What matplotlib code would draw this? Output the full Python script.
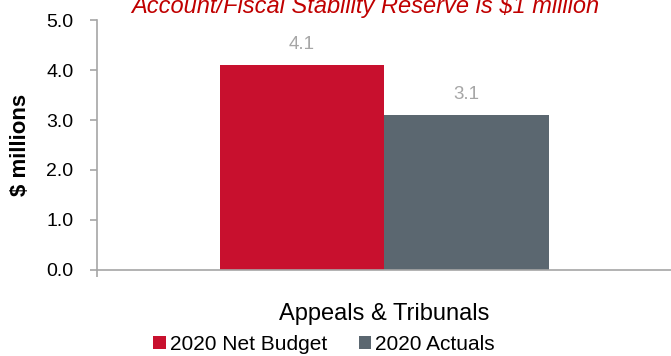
import matplotlib
matplotlib.use('Agg')
import matplotlib.pyplot as plt
from matplotlib.patches import Patch

plt.rcParams['font.family'] = ['Liberation Sans', 'DejaVu Sans']

# Chart data
category = 'Appeals & Tribunals'
series_names = ['2020 Net Budget', '2020 Actuals']
series_values = [4.1, 3.1]
series_colors = ['#C8102E', '#5B6770']
y_ticks = [0.0, 1.0, 2.0, 3.0, 4.0, 5.0]
note_text = 'Account/Fiscal Stability Reserve is $1 million'

fig = plt.figure(figsize=(6.71, 3.56), dpi=100)
ax = fig.add_axes([0.1446, 0.2416, 0.8554, 0.7022])

# Two bars side by side inside the single category
bar_w = 0.2866
offsets = [-bar_w / 2, bar_w / 2]
for off, val, col in zip(offsets, series_values, series_colors):
    ax.bar(off, val, width=bar_w, color=col, zorder=2)
    ax.annotate(f'{val:.1f}', xy=(off, val), xytext=(0, 9), textcoords='offset points',
                ha='center', va='bottom', fontsize=13.5, color='#A6A6A6')

ax.set_xlim(-0.5, 0.5)
ax.set_ylim(0, 5)
ax.set_yticks(y_ticks)
ax.set_yticklabels([f'{t:.1f}' for t in y_ticks])
ax.set_xticks([0])
ax.set_xticklabels([category])
ax.set_xticks([-0.5], minor=True)

# Axis styling like the Excel original
for side in ['top', 'right']:
    ax.spines[side].set_visible(False)
for side in ['left', 'bottom']:
    ax.spines[side].set_color('#A6A6A6')
    ax.spines[side].set_linewidth(1.2)
ax.tick_params(axis='y', length=5, width=1.2, color='#A6A6A6', pad=12, labelsize=14)
ax.tick_params(axis='x', which='major', length=0, pad=24, labelsize=17)
ax.tick_params(axis='x', which='minor', length=5, width=1.2, color='#A6A6A6')

ax.set_ylabel('$ millions', fontsize=16, fontweight='bold', labelpad=8)
ax.yaxis.set_label_coords(-0.115, 0.5)

# Red italic note at the very top, partly clipped as in the source slide
fig.text(0.545, 0.963, note_text, color='#C00000', fontsize=17, style='italic',
         ha='center', va='baseline')

handles = [Patch(facecolor=c, edgecolor='none') for c in series_colors]
fig.legend(handles, series_names, loc='center', bbox_to_anchor=(0.483, 0.033), ncol=2,
           frameon=False, fontsize=15, handlelength=0.6, handleheight=0.6,
           handletextpad=0.2, columnspacing=1.5, borderpad=0)

plt.savefig('out.png', dpi=100)
